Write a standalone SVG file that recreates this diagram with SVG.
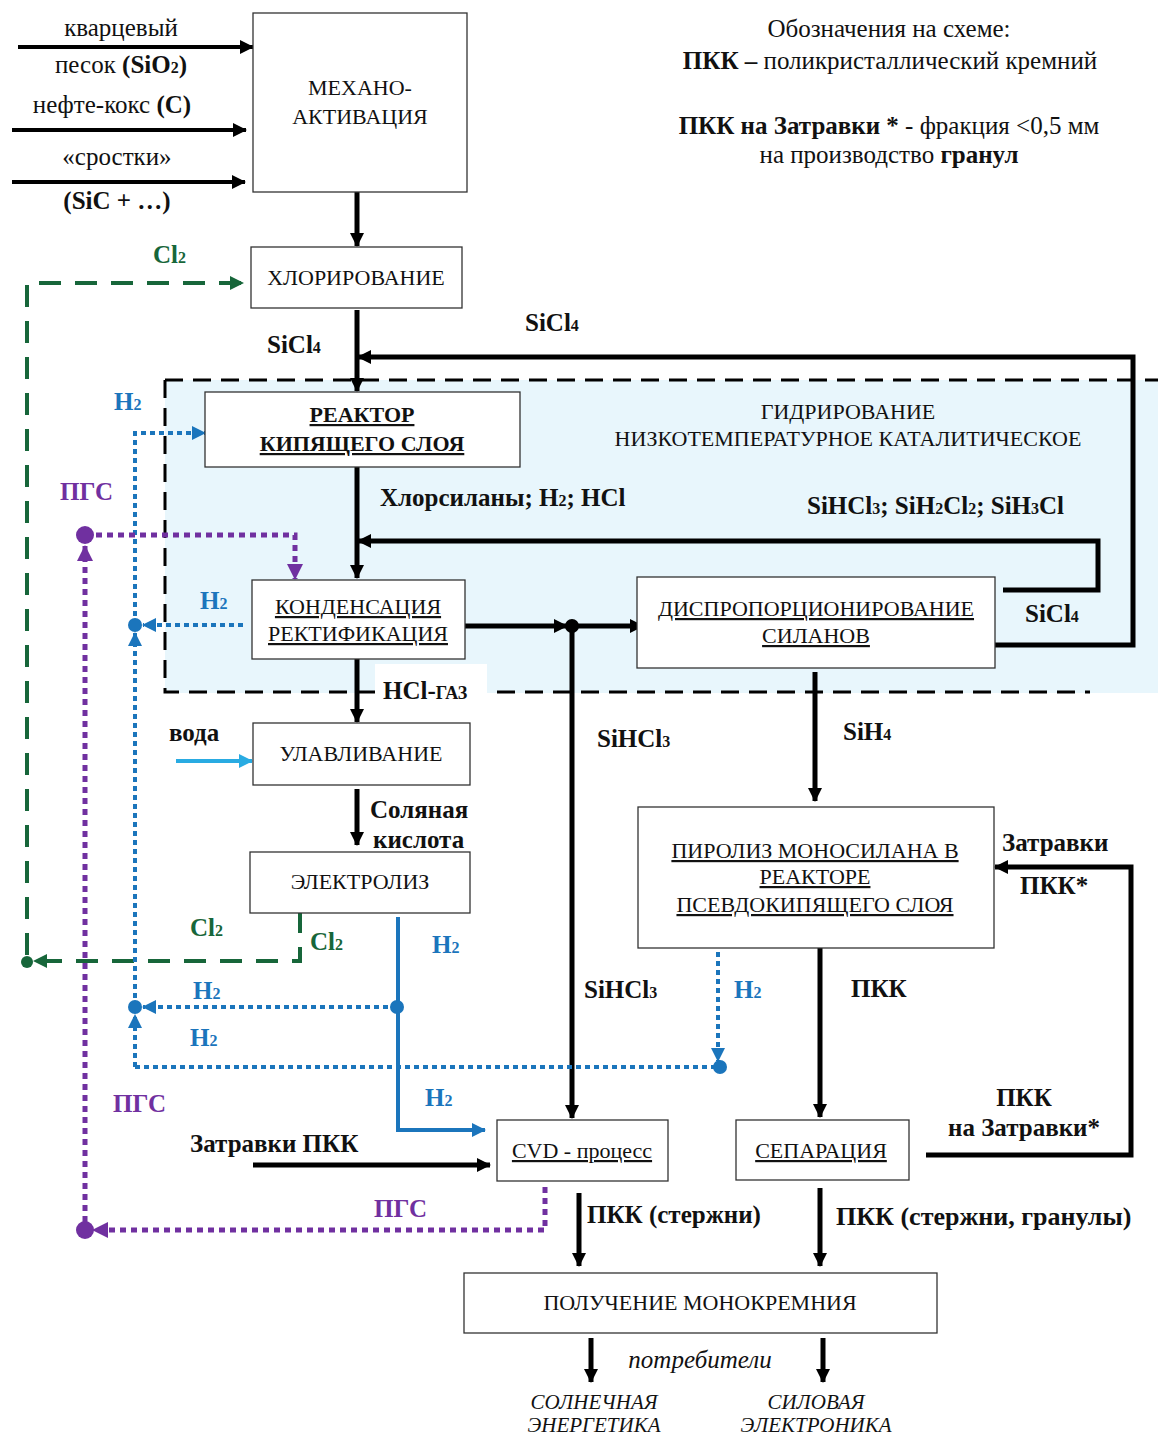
<svg xmlns="http://www.w3.org/2000/svg" width="1158" height="1439" viewBox="0 0 1158 1439">
<style>
text{font-family:"Liberation Serif","Times New Roman",serif;fill:#111}
.bx{fill:#fff;stroke:#333;stroke-width:1.3}
.t{font-size:22px;text-anchor:middle}
.u{text-decoration:underline}
.b{font-weight:bold;font-size:25px}
.c{text-anchor:middle}
.in{font-size:25px;text-anchor:middle}
.k{fill:none;stroke:#000;stroke-width:5}
.k4{fill:none;stroke:#000;stroke-width:4}
.g{fill:none;stroke:#17663a;stroke-width:4;stroke-dasharray:22 14}
.bl{fill:none;stroke:#1b75bc;stroke-width:4;stroke-dasharray:5 4}
.bs{fill:none;stroke:#1b75bc;stroke-width:4}
.p{fill:none;stroke:#7030a0;stroke-width:5;stroke-dasharray:6 5}
.gt{fill:#17663a}
.bt{fill:#1b75bc}
.pt{fill:#7030a0}
.i{font-style:italic;font-size:21px;text-anchor:middle}
.s{font-size:16px}
</style>
<defs>
<marker id="ak" markerUnits="userSpaceOnUse" markerWidth="14" markerHeight="14" refX="13" refY="7" orient="auto"><path d="M0,0 L14,7 L0,14 z" fill="#000"/></marker>
<marker id="ab" markerUnits="userSpaceOnUse" markerWidth="14" markerHeight="14" refX="13" refY="7" orient="auto"><path d="M0,0 L14,7 L0,14 z" fill="#1b75bc"/></marker>
<marker id="ag" markerUnits="userSpaceOnUse" markerWidth="14" markerHeight="14" refX="13" refY="7" orient="auto"><path d="M0,0 L14,7 L0,14 z" fill="#17663a"/></marker>
<marker id="ap" markerUnits="userSpaceOnUse" markerWidth="16" markerHeight="16" refX="15" refY="8" orient="auto"><path d="M0,0 L16,8 L0,16 z" fill="#7030a0"/></marker>
<marker id="aw" markerUnits="userSpaceOnUse" markerWidth="14" markerHeight="14" refX="13" refY="7" orient="auto"><path d="M0,0 L14,7 L0,14 z" fill="#29abe2"/></marker>
</defs>

<g id="region">
<rect x="165" y="380" width="993" height="313" fill="#e8f6fc"/>
<path d="M165,380 H1158 M165,380 V692 H1090" fill="none" stroke="#000" stroke-width="3" stroke-dasharray="18 10"/>
<text class="t" x="848" y="419">ГИДРИРОВАНИЕ</text>
<text class="t" x="848" y="446">НИЗКОТЕМПЕРАТУРНОЕ КАТАЛИТИЧЕСКОЕ</text>
</g>

<g id="connectors">
<line class="k4" x1="18" y1="47" x2="253" y2="47" marker-end="url(#ak)"/>
<line class="k4" x1="12" y1="130" x2="246" y2="130" marker-end="url(#ak)"/>
<line class="k4" x1="12" y1="182" x2="245" y2="182" marker-end="url(#ak)"/>
<line class="k" x1="357" y1="192" x2="357" y2="246" marker-end="url(#ak)"/>
<line class="k" x1="357" y1="310" x2="357" y2="391" marker-end="url(#ak)"/>
<polyline class="k" points="995,645 1133,645 1133,357 358,357" marker-end="url(#ak)"/>
<polyline class="k" points="1003,590 1098,590 1098,541 358,541" marker-end="url(#ak)"/>
<line class="k" x1="357" y1="467" x2="357" y2="578" marker-end="url(#ak)"/>
<line class="k" x1="465" y1="626" x2="567" y2="626" marker-end="url(#ak)"/>
<circle cx="572" cy="626" r="7" fill="#000"/>
<line class="k" x1="572" y1="626" x2="643" y2="626" marker-end="url(#ak)"/>
<line class="k" x1="572" y1="626" x2="572" y2="1118" marker-end="url(#ak)"/>
<line class="k" x1="357" y1="659" x2="357" y2="722" marker-end="url(#ak)"/>
<line class="k" x1="357" y1="789" x2="357" y2="845" marker-end="url(#ak)"/>
<line class="k" x1="815" y1="672" x2="815" y2="801" marker-end="url(#ak)"/>
<line class="k" x1="820" y1="948" x2="820" y2="1117" marker-end="url(#ak)"/>
<polyline class="k" points="926,1155 1131,1155 1131,867 995,867" marker-end="url(#ak)"/>
<line class="k" x1="820" y1="1188" x2="820" y2="1266" marker-end="url(#ak)"/>
<line class="k" x1="579" y1="1193" x2="579" y2="1266" marker-end="url(#ak)"/>
<line class="k" x1="253" y1="1165" x2="490" y2="1165" marker-end="url(#ak)"/>
<line class="k" x1="591" y1="1338" x2="591" y2="1382" marker-end="url(#ak)"/>
<line class="k" x1="823" y1="1338" x2="823" y2="1382" marker-end="url(#ak)"/>
<line x1="176" y1="761" x2="252" y2="761" stroke="#29abe2" stroke-width="4" marker-end="url(#aw)"/>
<polyline class="g" points="300,911 300,961 34,961" marker-end="url(#ag)"/>
<circle cx="27" cy="962" r="6" fill="#17663a"/>
<polyline class="g" points="27,955 27,283 243,283" marker-end="url(#ag)"/>
<polyline class="bs" points="398,917 398,1130 485,1130" marker-end="url(#ab)"/>
<circle cx="397" cy="1007" r="7" fill="#1b75bc"/>
<line class="bl" x1="397" y1="1007" x2="143" y2="1007" marker-end="url(#ab)"/>
<circle cx="135" cy="1007" r="7" fill="#1b75bc"/>
<line class="bl" x1="135" y1="1067" x2="135" y2="1015" marker-end="url(#ab)"/>
<line class="bl" x1="135" y1="1007" x2="135" y2="633" marker-end="url(#ab)"/>
<circle cx="135" cy="625" r="7" fill="#1b75bc"/>
<line class="bl" x1="243" y1="625" x2="143" y2="625" marker-end="url(#ab)"/>
<polyline class="bl" points="135,625 135,433 205,433" marker-end="url(#ab)"/>
<line class="bl" x1="135" y1="1067" x2="720" y2="1067"/>
<circle cx="720" cy="1067" r="7" fill="#1b75bc"/>
<line class="bl" x1="718" y1="952" x2="718" y2="1061" marker-end="url(#ab)"/>
<polyline class="p" points="545,1187 545,1230 93,1230" marker-end="url(#ap)"/>
<circle cx="85" cy="1230" r="9" fill="#7030a0"/>
<line class="p" x1="85" y1="1222" x2="85" y2="546" marker-end="url(#ap)"/>
<circle cx="85" cy="535" r="9" fill="#7030a0"/>
<polyline class="p" points="85,535 295,535 295,579" marker-end="url(#ap)"/>
</g>

<g id="labels">
<text class="in" x="121" y="36">кварцевый</text>
<text class="in" x="121" y="73">песок <tspan font-weight="bold">(SiO<tspan class="s">2</tspan>)</tspan></text>
<text class="in" x="112" y="113">нефте-кокс <tspan font-weight="bold">(C)</tspan></text>
<text class="in" x="117" y="165">«сростки»</text>
<text class="in" x="117" y="209" font-weight="bold">(SiC + …)</text>
<text class="b" x="267" y="353">SiCl<tspan class="s">4</tspan></text>
<text class="b" x="525" y="331">SiCl<tspan class="s">4</tspan></text>
<text class="b" x="380" y="506">Хлорсиланы; H<tspan class="s">2</tspan>; HCl</text>
<text class="b" x="807" y="514">SiHCl<tspan class="s">3</tspan>; SiH<tspan class="s">2</tspan>Cl<tspan class="s">2</tspan>; SiH<tspan class="s">3</tspan>Cl</text>
<text class="b" x="1025" y="622">SiCl<tspan class="s">4</tspan></text>
<rect x="375" y="664" width="112" height="53" fill="#fff"/>
<text class="b" x="383" y="699">HCl-<tspan font-size="18">ГАЗ</tspan></text>
<text class="b" x="169" y="741">вода</text>
<text class="b" x="370" y="818">Соляная</text>
<text class="b" x="373" y="848">кислота</text>
<text class="b" x="597" y="747">SiHCl<tspan class="s">3</tspan></text>
<text class="b" x="843" y="740">SiH<tspan class="s">4</tspan></text>
<text class="b" x="584" y="998">SiHCl<tspan class="s">3</tspan></text>
<text class="b" x="851" y="997">ПКК</text>
<text class="b" x="1002" y="851">Затравки</text>
<text class="b" x="1020" y="894">ПКК*</text>
<text class="b c" x="1024" y="1106">ПКК</text>
<text class="b c" x="1024" y="1136">на Затравки*</text>
<text class="b" x="190" y="1152">Затравки ПКК</text>
<text class="b" x="587" y="1223">ПКК (стержни)</text>
<text class="b" x="836" y="1225" style="font-size:26px">ПКК (стержни, гранулы)</text>
<text class="b gt" x="153" y="263">Cl<tspan class="s">2</tspan></text>
<text class="b gt" x="190" y="936">Cl<tspan class="s">2</tspan></text>
<text class="b gt" x="310" y="950">Cl<tspan class="s">2</tspan></text>
<text class="b bt" x="114" y="410">H<tspan class="s">2</tspan></text>
<text class="b bt" x="200" y="609">H<tspan class="s">2</tspan></text>
<text class="b bt" x="432" y="953">H<tspan class="s">2</tspan></text>
<text class="b bt" x="193" y="999">H<tspan class="s">2</tspan></text>
<text class="b bt" x="190" y="1046">H<tspan class="s">2</tspan></text>
<text class="b bt" x="425" y="1106">H<tspan class="s">2</tspan></text>
<text class="b bt" x="734" y="998">H<tspan class="s">2</tspan></text>
<text class="b pt" x="60" y="500">ПГС</text>
<text class="b pt" x="113" y="1112">ПГС</text>
<text class="b pt" x="374" y="1217">ПГС</text>
<text class="i" x="700" y="1368" style="font-size:25px">потребители</text>
<text class="i" x="594" y="1409">СОЛНЕЧНАЯ</text>
<text class="i" x="594" y="1432">ЭНЕРГЕТИКА</text>
<text class="i" x="816" y="1409">СИЛОВАЯ</text>
<text class="i" x="816" y="1432">ЭЛЕКТРОНИКА</text>
</g>

<g id="legend">
<text class="c" x="889" y="37" style="font-size:25px">Обозначения на схеме:</text>
<text class="c" x="890" y="69" style="font-size:25px"><tspan font-weight="bold">ПКК –</tspan> поликристаллический кремний</text>
<text class="c" x="889" y="134" style="font-size:25px"><tspan font-weight="bold">ПКК на Затравки *</tspan> - фракция &lt;0,5 мм</text>
<text class="c" x="889" y="163" style="font-size:25px">на производство <tspan font-weight="bold">гранул</tspan></text>
</g>

<g id="n-mech"><rect class="bx" x="253" y="13" width="214" height="179"/>
<text class="t" x="360" y="95">МЕХАНО-</text><text class="t" x="360" y="124">АКТИВАЦИЯ</text></g>
<g id="n-chlor"><rect class="bx" x="251" y="247" width="211" height="61"/>
<text class="t" x="356" y="285">ХЛОРИРОВАНИЕ</text></g>
<g id="n-reactor"><rect class="bx" x="205" y="392" width="315" height="75"/>
<text class="t u" x="362" y="422" font-weight="bold">РЕАКТОР</text><text class="t u" x="362" y="451" font-weight="bold">КИПЯЩЕГО СЛОЯ</text></g>
<g id="n-cond"><rect class="bx" x="252" y="580" width="213" height="79"/>
<text class="t u" x="358" y="614">КОНДЕНСАЦИЯ</text><text class="t u" x="358" y="641">РЕКТИФИКАЦИЯ</text></g>
<g id="n-disp"><rect class="bx" x="637" y="577" width="358" height="91"/>
<text class="t u" x="816" y="616">ДИСПРОПОРЦИОНИРОВАНИЕ</text><text class="t u" x="816" y="643">СИЛАНОВ</text></g>
<g id="n-ulav"><rect class="bx" x="253" y="723" width="217" height="62"/>
<text class="t" x="361" y="761">УЛАВЛИВАНИЕ</text></g>
<g id="n-elec"><rect class="bx" x="250" y="852" width="220" height="61"/>
<text class="t" x="360" y="889">ЭЛЕКТРОЛИЗ</text></g>
<g id="n-pyro"><rect class="bx" x="638" y="807" width="356" height="141"/>
<text class="t u" x="815" y="858">ПИРОЛИЗ МОНОСИЛАНА В</text><text class="t u" x="815" y="884">РЕАКТОРЕ</text><text class="t u" x="815" y="912">ПСЕВДОКИПЯЩЕГО СЛОЯ</text></g>
<g id="n-cvd"><rect class="bx" x="497" y="1120" width="171" height="61"/>
<text class="t u" x="582" y="1158">CVD - процесс</text></g>
<g id="n-sep"><rect class="bx" x="736" y="1120" width="173" height="60"/>
<text class="t u" x="821" y="1158">СЕПАРАЦИЯ</text></g>
<g id="n-mono"><rect class="bx" x="464" y="1273" width="473" height="60"/>
<text class="t" x="700" y="1310">ПОЛУЧЕНИЕ МОНОКРЕМНИЯ</text></g>
</svg>
